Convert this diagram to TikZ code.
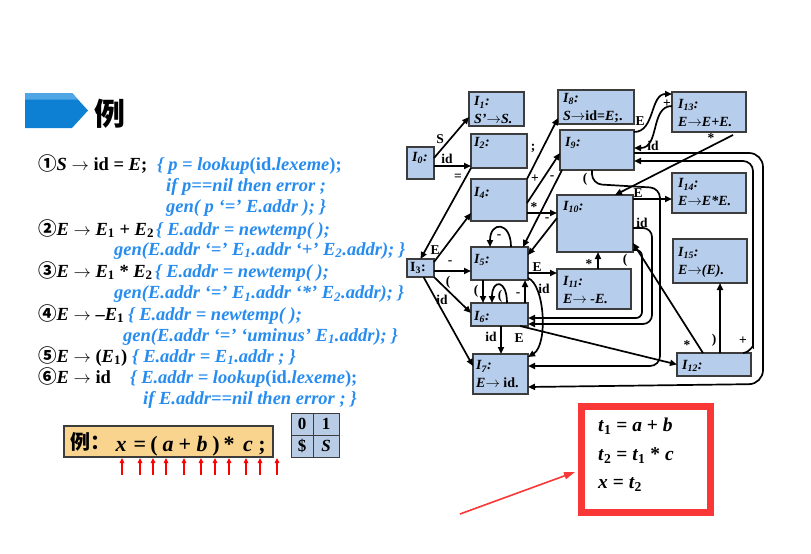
\documentclass[tikz,border=0pt]{standalone}
\usepackage{fontspec}
\setmainfont{Liberation Serif}
\newfontfamily\cjk{Noto Sans CJK SC}
\usetikzlibrary{arrows.meta,calc}
\definecolor{boxfill}{RGB}{182,205,235}
\definecolor{boxline}{RGB}{60,60,60}
\definecolor{actblue}{RGB}{38,140,240}
\definecolor{hblue}{RGB}{14,128,211}
\definecolor{hlight}{RGB}{80,165,228}
\definecolor{ybfill}{RGB}{248,212,142}
\definecolor{redc}{RGB}{250,55,55}
\definecolor{tblfill}{RGB}{184,204,230}
\newcommand\myra{\ensuremath{\rightarrow}}
\newcommand\mysub[1]{\textsubscript{#1}}
\begin{document}
\begin{tikzpicture}[x=1pt,y=-1pt,
  box/.style={draw=boxline,fill=boxfill,line width=1.2pt,inner sep=0pt,outer sep=0pt,anchor=north west},
  blab/.style={font=\fontsize{14}{18}\selectfont\bfseries\itshape,inner sep=0pt,anchor=west,align=left},
  edge/.style={line width=1.7pt,-{Triangle[length=7pt,width=6pt]}},
  elab/.style={font=\fontsize{13.5}{14}\selectfont\bfseries,inner sep=0pt},
  rule/.style={font=\fontsize{18.5}{20}\selectfont\bfseries,inner sep=0pt,anchor=base west},
  act/.style={rule,text=actblue},
  ysym/.style={font=\fontsize{22}{22}\selectfont\bfseries,inner sep=0pt,anchor=base},
  cell/.style={draw=boxline,fill=tblfill,line width=1pt,inner sep=0pt,outer sep=0pt,anchor=north west,font=\fontsize{17}{18}\selectfont\bfseries},
  rtxt/.style={font=\fontsize{19.5}{20}\selectfont\bfseries,inner sep=0pt,anchor=base west},
  uparr/.style={red,line width=1.5pt,-{Triangle[length=5pt,width=4.5pt]}},
  redthin/.style={redc,line width=1.6pt,-{Triangle[length=11pt,width=7pt]}}
]
\fill[white] (0,0) rectangle (811,554);
\useasboundingbox (0,0) rectangle (811,554);

% header
\fill[hblue] (25,93) -- (72,93) -- (88,110.5) -- (72,128) -- (25,128) -- cycle;
\fill[hlight] (25,93) -- (72,93) -- (78,99.5) -- (25,99.5) -- cycle;
\node[inner sep=0pt,font=\fontsize{31}{32}\selectfont\cjk\bfseries] (hd) at (110,114) {例};

% rules
\node[rule] (b1) at (38,170) {{\cjk ①}\textit{S} \myra{} id = \textit{E};};
\node[act] (a1) at (157,170) {\itshape\{ p = lookup{\upshape(id.}lexeme{\upshape);}};
\node[act] (a2) at (166,191) {\itshape if p==nil then error ;};
\node[act] (a3) at (166,212) {\itshape gen( p ‘=’ E.addr ); \}};
\node[rule] (b2) at (38,235) {{\cjk ②}\textit{E} \myra{} \textit{E}\mysub{1} + \textit{E}\mysub{2}};
\node[act] (a4) at (156,235) {\itshape\{ E.addr = newtemp( );};
\node[act] (a5) at (114,255) {\itshape gen(E.addr ‘=’ E\mysub{1}.addr ‘+’ E\mysub{2}.addr); \}};
\node[rule] (b3) at (38,277) {{\cjk ③}\textit{E} \myra{} \textit{E}\mysub{1} * \textit{E}\mysub{2}};
\node[act] (a6) at (155,277) {\itshape\{ E.addr = newtemp( );};
\node[act] (a7) at (114,298.5) {\itshape gen(E.addr ‘=’ E\mysub{1}.addr ‘*’ E\mysub{2}.addr); \}};
\node[rule] (b4) at (38,320) {{\cjk ④}\textit{E} \myra{} –\textit{E}\mysub{1}};
\node[act] (a8) at (128,320) {\itshape\{ E.addr = newtemp( );};
\node[act] (a9) at (123,341) {\itshape gen(E.addr ‘=’ ‘uminus’ E\mysub{1}.addr); \}};
\node[rule] (b5) at (38,362) {{\cjk ⑤}\textit{E} \myra{} (\textit{E}\mysub{1})};
\node[act] (a10) at (132,362) {\itshape\{ E.addr = E\mysub{1}.addr ; \}};
\node[rule] (b6) at (38,383) {{\cjk ⑥}\textit{E} \myra{} id};
\node[act] (a11) at (130,383) {\itshape\{ E.addr = lookup{\upshape(id.}lexeme{\upshape);}};
\node[act] (a12) at (143,404) {\itshape if E.addr==nil then error ; \}};

% input string box
\node[draw=boxline,fill=ybfill,line width=1.2pt,inner sep=0pt,outer sep=0pt,anchor=north west,minimum width=209pt,minimum height=31pt] (yb) at (64,426) {};
\node[inner sep=0pt,anchor=west,font=\fontsize{20}{20}\selectfont\cjk\bfseries] (y0) at (70,441.5) {例：};
\node[ysym] (s1) at (121,451) {\textit{x}};
\node[ysym] (s2) at (140,451) {=};
\node[ysym] (s3) at (154,451) {(};
\node[ysym] (s4) at (168,451) {\textit{a}};
\node[ysym] (s5) at (185,451) {+};
\node[ysym] (s6) at (202,451) {\textit{b}};
\node[ysym] (s7) at (216,451) {)};
\node[ysym] (s8) at (229,451) {*};
\node[ysym] (s9) at (248,451) {\textit{c}};
\node[ysym] (s10) at (262,451) {;};
\foreach \x [count=\i] in {122,140,153,166,184,201,215,229,246,260,277}{
  \coordinate (pt\i) at (\x,475);
  \coordinate (ph\i) at (\x,458);
  \draw[uparr] (pt\i) -- (ph\i);
}

% stack table
\node[cell,minimum width=22pt,minimum height=22pt] (c00) at (291,413) {0};
\node[cell,minimum width=26pt,minimum height=22pt] (c01) at (313,413) {1};
\node[cell,minimum width=22pt,minimum height=22pt] (c10) at (291,435) {\$};
\node[cell,minimum width=26pt,minimum height=22pt] (c11) at (313,435) {\textit{S}};

% result box
\node[draw=redc,line width=7pt,inner sep=0pt,outer sep=0pt,minimum width=129pt,minimum height=106pt,anchor=north west] (rbox) at (581.5,406.5) {};
\node[rtxt] (rt1) at (598,431) {\textit{t}\mysub{1} = \textit{a} + \textit{b}};
\node[rtxt] (rt2) at (598,460) {\textit{t}\mysub{2} = \textit{t}\mysub{1} * \textit{c}};
\node[rtxt] (rt3) at (598,488) {\textit{x} = \textit{t}\mysub{2}};
\coordinate (rtail) at (460,514);
\draw[redthin] (rtail) -- ($(rbox.west)+(-6.5,12.5)$);

% automaton states
\foreach \n/\x/\y/\w/\h in {I0/407/147/27/32, I1/469/92/55/34, I2/471/134/56/34, I3/407/259/27/18,
  I4/471/179/56/42, I5/471/247/57/33, I6/471/303/57/23, I7/473/354/55/40, I8/558/90/76/34,
  I9/560/130/74/40, I10/557/195/76/57, I11/557/269/74/40, I12/677/353/74/23, I13/672/92/74/40,
  I14/672/173/74/40, I15/673/239/74/44}{
  \node[box,minimum width=\w pt,minimum height=\h pt] (\n) at (\x,\y) {};
}
\node[blab] (L0) at ($(I0.north west)+(5,11)$) {I\mysub{0}:};
\node[blab] (L1) at ($(I1.north west)+(5,18.5)$) {I\mysub{1}:\\S’\myra{}S.};
\node[blab] (L2) at ($(I2.north west)+(3,9)$) {I\mysub{2}:};
\node[blab] (L3) at ($(I3.north west)+(3,9)$) {\upshape I\mysub{3}:};
\node[blab] (L4) at ($(I4.north west)+(3,14)$) {I\mysub{4}:};
\node[blab] (L5) at ($(I5.north west)+(3,13)$) {I\mysub{5}:};
\node[blab] (L6) at ($(I6.north west)+(3,14)$) {I\mysub{6}:};
\node[blab] (L7) at ($(I7.north west)+(3,20.5)$) {I\mysub{7}:\\E\myra{} {\upshape id.}};
\node[blab] (L8) at ($(I8.north west)+(5,18)$) {I\mysub{8}:\\S\myra{}{\upshape id=}E{\upshape;.}};
\node[blab] (L9) at ($(I9.north west)+(5,13)$) {I\mysub{9}:};
\node[blab] (L10) at ($(I10.north west)+(6,12)$) {I\mysub{10}:};
\node[blab] (L11) at ($(I11.north west)+(6,21)$) {I\mysub{11}:\\E\myra{} -E.};
\node[blab] (L12) at ($(I12.north west)+(5,13)$) {I\mysub{12}:};
\node[blab] (L13) at ($(I13.north west)+(6,21)$) {I\mysub{13}:\\E\myra{}E+E.};
\node[blab] (L14) at ($(I14.north west)+(6,19.5)$) {I\mysub{14}:\\E\myra{}E*E.};
\node[blab] (L15) at ($(I15.north west)+(5,23)$) {I\mysub{15}:\\E\myra{}(E).};

% transitions
\draw[edge] ($(I0.north east)+(0,11)$) -- ($(I1.south west)+(0,-9)$);
\draw[edge] ($(I0.north east)+(0,19)$) -- ($(I2.south west)+(0,-2)$);
\draw[edge] (I2.south west) -- (I3.north);
\draw[edge] ($(I3.north east)+(0,3)$) -- ($(I4.south west)+(0,-8)$);
\draw[edge] ($(I3.east)+(0,3)$) -- ($(I5.west)+(0,7.5)$);
\draw[edge] (I3.south east) -- ($(I6.west)+(0,-1.5)$);
\draw[edge] ($(I3.south)+(3,0)$) -- ($(I7.west)+(0,-8)$);
\draw[edge] (I4.north east) -- ($(I8.south west)+(0,-6)$);
\draw[edge] ($(I4.north east)+(0,24)$) -- ($(I9.west)+(0,3)$);
\draw[edge] ($(I4.south east)+(0,-8)$) -- ($(I10.north west)+(0,18)$);
\draw[edge] ($(I9.south west)+(2,0)$) -- ($(I5.north east)+(-5,0)$);
\draw[edge] ($(I10.west)+(0,-5.5)$) -- ($(I5.east)+(0,-8.5)$);
\draw[edge] ($(I5.north)+(11.5,0)$) .. controls +(0,-26) and +(0,-26) .. ($(I5.north)+(-9.5,0)$);
\draw[edge] ($(I5.east)+(0,9.5)$) -- ($(I11.west)+(0,-16)$);
\draw[edge] ($(I5.south east)+(0,-2)$) .. controls +(17,7) and +(20,-12) .. ($(I7.north east)+(0,3)$);
\draw[edge] ($(I5.south west)+(12,0)$) -- ($(I6.north west)+(12,0)$);
\draw[edge] ($(I6.north)+(7.5,0)$) .. controls +(0,-24) and +(0,-24) .. ($(I6.north)+(-7.5,0)$);
\draw[edge] ($(I6.north east)+(-3,0)$) -- ($(I5.south east)+(-3,0)$);
\draw[edge] ($(I6.south)+(1.5,0)$) -- ($(I7.north west)+(28,0)$);
\draw[edge] ($(I6.south east)+(-8,0)$) -- (I12.west);
\draw[edge] ($(I9.north east)+(0,2)$) .. controls +(21,0) and +(-22,0) .. ($(I13.north west)+(0,2)$);
\draw[edge] ($(I13.west)+(0,-6)$) .. controls +(-22,0) and +(26,0) .. ($(I9.east)+(0,-2)$);
\draw[edge] ($(I13.south)+(24,3)$) -- ($(I10.north east)+(-18,0)$);
\draw[edge,rounded corners=14pt] ($(I9.east)+(0,3)$) -- ++(129,0) -- ++(0,231) -- ($(I7.south east)+(0,-7)$);
\draw[edge,rounded corners=10pt] ($(I12.north east)+(-8,0)$) .. controls +(8,-1) and +(0,7) .. ++(10,-16) -- ++(0,-176) -- ($(I9.east)+(0,11)$);
\draw[edge] ($(I10.north east)+(0,4)$) -- ($(I14.west)+(0,6)$);
\draw[edge,rounded corners=9pt] ($(I10.east)+(0,4.5)$) -- ++(19,0) -- ++(0,96) -- ($(I6.east)+(0,9.5)$);
\draw[edge,rounded corners=6pt] ($(I10.south east)+(0,-2)$) -- ++(9,0) -- ++(0,68) -- ($(I6.east)+(0,3.5)$);
\draw[edge,rounded corners=10pt] ($(I9.south)+(-5,0)$) -- ++(0,14) -- ++(68,4) -- ++(0,178) -- ($(I7.east)+(0,-8)$);
\draw[edge] ($(I11.north)+(4,0)$) -- ($(I10.south)+(3,0)$);
\draw[edge] ($(I12.north)+(-11,0)$) -- ($(I10.south east)+(0,-9)$);
\draw[edge] ($(I12.north)+(6,0)$) -- ($(I15.south)+(10,0)$);

% transition labels
\node[elab] (t1) at (440,139) {S};
\node[elab] (t2) at (447,159) {id};
\node[elab] (t3) at (458,177) {=};
\node[elab] (t4) at (435,250) {E};
\node[elab] (t5) at (450,263) {-};
\node[elab] (t6) at (448,282) {(};
\node[elab] (t7) at (442,300) {id};
\node[elab] (t8) at (533,148) {;};
\node[elab] (t9) at (535,179) {+};
\node[elab] (t10) at (534,207) {*};
\node[elab] (t11) at (552,178) {-};
\node[elab] (t12) at (547,220) {-};
\node[elab] (t13) at (499,237) {-};
\node[elab] (t14) at (537,267) {E};
\node[elab] (t15) at (544,289) {id};
\node[elab] (t16) at (476,291) {(};
\node[elab] (t17) at (500,296) {(};
\node[elab] (t18) at (518,295) {-};
\node[elab] (t19) at (491,337) {id};
\node[elab] (t20) at (519,338) {E};
\node[elab] (t21) at (640,121) {E};
\node[elab] (t22) at (667,104) {+};
\node[elab] (t23) at (711,138) {*};
\node[elab] (t24) at (585,179) {(};
\node[elab] (t25) at (638,193) {E};
\node[elab] (t26) at (642,223) {id};
\node[elab] (t27) at (625,260) {(};
\node[elab] (t28) at (589,264) {*};
\node[elab] (t29) at (687,345) {*};
\node[elab] (t30) at (714,340) {)};
\node[elab] (t31) at (743,341) {+};
\node[elab] (t32) at (653,146) {id};
\end{tikzpicture}
\end{document}
